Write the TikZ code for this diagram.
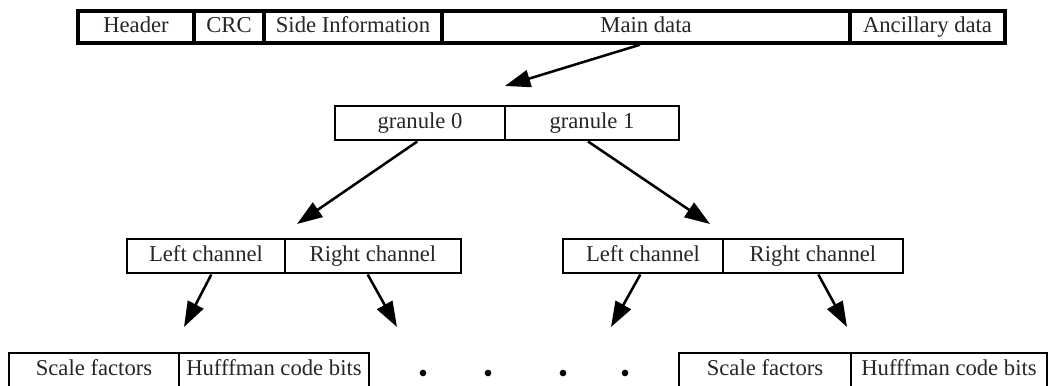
\documentclass[tikz,border=0pt]{standalone}
\usepackage{fontspec}
\setmainfont{Liberation Serif}
\usetikzlibrary{arrows.meta}
\begin{document}
\begin{tikzpicture}[x=0.75pt,y=-0.75pt,
  cell/.style={draw=black,line width=2.2pt,inner sep=0pt,minimum height=25.5pt,
    text height=11.5pt,text depth=3.5pt,
    font=\fontsize{17}{20}\selectfont,text=black!85},
  bigcell/.style={cell,line width=2.6pt,minimum height=24pt},
  arr/.style={line width=1.9pt,-{Triangle[length=19pt,width=13pt]}},
  dotnode/.style={circle,fill=black,inner sep=0pt,minimum size=5pt}]
\useasboundingbox (0,0) rectangle (1048,385);
% top frame
\node[bigcell,minimum width=87pt]  (hdr) at (136,27) {Header};
\node[bigcell,minimum width=52.5pt] (crc) at (229,27) {CRC};
\node[bigcell,minimum width=133.5pt] (side) at (353,27) {Side Information};
\node[bigcell,minimum width=306pt] (main) at (646,27) {Main data};
\node[bigcell,minimum width=116.25pt] (anc) at (927.5,27) {Ancillary data};
% granules
\node[cell,minimum width=127.5pt] (g0) at (420,123) {granule 0};
\node[cell,minimum width=130.5pt] (g1) at (592,123) {granule 1};
% channels
\node[cell,minimum width=118.5pt] (lc1) at (206,256) {Left channel};
\node[cell,minimum width=132pt] (rc1) at (373,256) {Right channel};
\node[cell,minimum width=120pt] (lc2) at (643,256) {Left channel};
\node[cell,minimum width=135pt] (rc2) at (813,256) {Right channel};
% bottom
\node[cell,minimum width=127.5pt] (sf1) at (94,370) {Scale factors};
\node[cell,minimum width=142.5pt] (hc1) at (274,370) {Hufffman code bits};
\node[cell,minimum width=129pt] (sf2) at (765,370) {Scale factors};
\node[cell,minimum width=147pt] (hc2) at (949,370) {Hufffman code bits};
% dots
\node[dotnode] (d1) at (423,373) {};
\node[dotnode] (d2) at (488,373) {};
\node[dotnode] (d3) at (563,373) {};
\node[dotnode] (d4) at (625,373) {};
% free ends of arrows
\coordinate (tm) at (505,86);
\coordinate (t0) at (297,224);
\coordinate (t1) at (710,224);
\coordinate (tl1) at (184,327);
\coordinate (tr1) at (397,327);
\coordinate (tl2) at (611,327);
\coordinate (tr2) at (847,327);
\draw[arr] ([xshift=-4.5pt]main.south) -- (tm);
\draw[arr] ([xshift=-2pt]g0.south) -- (t0);
\draw[arr] ([xshift=-3pt]g1.south) -- (t1);
\draw[arr] ([xshift=4pt]lc1.south) -- (tl1);
\draw[arr] ([xshift=-4pt]rc1.south) -- (tr1);
\draw[arr] ([xshift=-2pt]lc2.south) -- (tl2);
\draw[arr] ([xshift=4pt]rc2.south) -- (tr2);
\end{tikzpicture}
\end{document}
